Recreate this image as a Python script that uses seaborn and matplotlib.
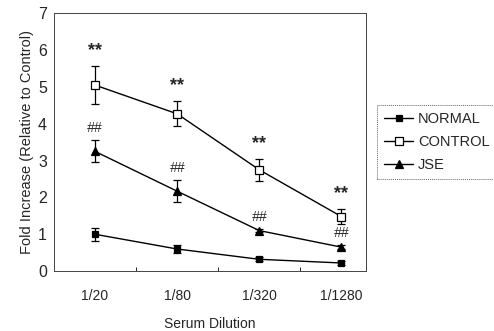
import numpy as np
import pandas as pd
import matplotlib
matplotlib.use("Agg")
import matplotlib.pyplot as plt
import seaborn as sns

# ── Data ─────────────────────────────────────────────────────────────────────
dilutions = ["1/20", "1/80", "1/320", "1/1280"]
normal = [1.0, 0.6, 0.32, 0.22]
normal_err = [0.18, 0.1, 0.05, 0.05]
control = [5.05, 4.27, 2.75, 1.48]
control_err = [0.52, 0.34, 0.3, 0.2]
jse = [3.25, 2.17, 1.1, 0.65]
jse_err = [0.3, 0.3, 0.05, 0.05]
control_marks = ["**", "**", "**", "**"]
jse_marks = ["##", "##", "##", "##"]

sns.set_style("white")
plt.rcParams["font.family"] = ["Liberation Sans", "DejaVu Sans"]

df = pd.DataFrame({
    "dilution": dilutions * 3,
    "value": normal + control + jse,
    "err": normal_err + control_err + jse_err,
    "group": ["NORMAL"] * 4 + ["CONTROL"] * 4 + ["JSE"] * 4,
})

fig = plt.figure(figsize=(4.94, 3.31), dpi=100)
ax = fig.add_axes([0.109, 0.181, 0.632, 0.779])

styles = {
    "NORMAL": dict(marker="s", mfc="black", ms=5),
    "CONTROL": dict(marker="s", mfc="white", ms=6),
    "JSE": dict(marker="^", mfc="black", ms=6),
}
x = np.arange(len(dilutions))
for name, sub in df.groupby("group", sort=False):
    st = styles[name]
    sns.lineplot(x=x, y=sub["value"].values, ax=ax, color="black", lw=1.0,
                 marker=st["marker"], markersize=st["ms"],
                 markerfacecolor=st["mfc"], markeredgecolor="black",
                 markeredgewidth=0.9, label=name)
    ax.errorbar(x, sub["value"].values, yerr=sub["err"].values, fmt="none",
                ecolor="black", elinewidth=0.9, capsize=3, capthick=0.9, zorder=1)

for xi, v, e, m in zip(x, control, control_err, control_marks):
    ax.text(xi, v + e + 0.42, m, ha="center", va="center", fontsize=13,
            fontweight="bold")
for xi, v, e, m in zip(x, jse, jse_err, jse_marks):
    ax.text(xi, v + e + 0.33, m, ha="center", va="center", fontsize=10,
            fontstyle="italic")

ax.set_xlim(-0.5, 3.3)
ax.set_ylim(0, 7)
ax.set_xticks(x)
ax.set_xticklabels(dilutions, fontsize=10)
ax.set_xticks([0.5, 1.5, 2.5], minor=True)
ax.set_yticks(range(8))
ax.tick_params(axis="y", labelsize=11.5, length=0, pad=5)
ax.tick_params(axis="x", which="major", length=0, pad=13)
ax.tick_params(axis="x", which="minor", length=3, direction="in", width=0.7,
               bottom=True)
ax.set_xlabel("Serum Dilution", fontsize=10, labelpad=10)
ax.set_ylabel("Fold Increase (Relative to Control)", fontsize=10.5, labelpad=3)
for sp in ax.spines.values():
    sp.set_linestyle((0, (1, 1)))
    sp.set_linewidth(0.7)
    sp.set_color("#444444")
ax.spines["left"].set_linestyle("-")
ax.spines["bottom"].set_linestyle("-")

leg = ax.legend(loc="center left", bbox_to_anchor=(1.035, 0.5), frameon=True,
                fontsize=10.5, handlelength=2.0, borderpad=0.5, labelspacing=0.6,
                handletextpad=0.3, fancybox=False, borderaxespad=0)
leg.get_frame().set_edgecolor("#444444")
leg.get_frame().set_linestyle((0, (1, 1)))
leg.get_frame().set_linewidth(0.7)

fig.savefig("out.png", dpi=100)
